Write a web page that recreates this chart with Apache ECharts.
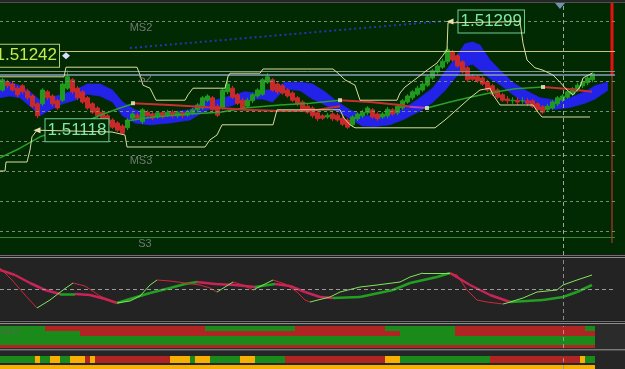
<!DOCTYPE html>
<html>
<head>
<meta charset="utf-8">
<script src="https://cdn.jsdelivr.net/npm/echarts@6/dist/echarts.min.js"></script>
<style>
html,body{margin:0;padding:0;background:#012a02;overflow:hidden;}
#chart{width:625px;height:369px;}
</style>
</head>
<body>
<div id="chart"></div>
<script>
// ================= DATA =================
// candles: [open, close, low, high], one per bar
const candles = [
[1.51185,1.51202,1.51182,1.51205],[1.51198,1.51192,1.51188,1.51202],[1.51195,1.51185,1.51182,1.51198],
[1.51188,1.51177,1.51173,1.51192],[1.51192,1.51182,1.51178,1.51195],[1.51183,1.51172,1.51168,1.51187],
[1.51175,1.51158,1.51155,1.51178],[1.51162,1.51142,1.51138,1.51165],[1.51162,1.51185,1.51158,1.51188],
[1.51182,1.51172,1.51168,1.51185],[1.51175,1.51162,1.51158,1.51178],[1.51167,1.51155,1.51152,1.51170],
[1.51168,1.51195,1.51165,1.51198],[1.51188,1.51207,1.51185,1.51218],[1.51202,1.51182,1.51178,1.51205],
[1.51188,1.51172,1.51168,1.51192],[1.51182,1.51165,1.51162,1.51185],[1.51172,1.51155,1.51152,1.51175],
[1.51162,1.51148,1.51145,1.51165],[1.51155,1.51142,1.51138,1.51158],[1.51148,1.51135,1.51132,1.51152],
[1.51142,1.51128,1.51125,1.51145],[1.51135,1.51123,1.51120,1.51138],[1.51130,1.51118,1.51115,1.51133],
[1.51125,1.51113,1.51110,1.51128],[1.51122,1.51135,1.51118,1.51138],[1.51138,1.51145,1.51135,1.51148],
[1.51143,1.51138,1.51135,1.51147],[1.51132,1.51152,1.51128,1.51155],[1.51148,1.51142,1.51138,1.51152],
[1.51145,1.51138,1.51135,1.51148],[1.51140,1.51147,1.51137,1.51150],[1.51147,1.51140,1.51137,1.51150],
[1.51143,1.51148,1.51140,1.51152],[1.51148,1.51142,1.51138,1.51152],[1.51142,1.51147,1.51138,1.51150],
[1.51147,1.51142,1.51138,1.51150],[1.51143,1.51148,1.51140,1.51152],[1.51147,1.51152,1.51143,1.51155],
[1.51152,1.51160,1.51148,1.51163],[1.51155,1.51172,1.51152,1.51175],[1.51168,1.51175,1.51165,1.51178],
[1.51172,1.51152,1.51148,1.51175],[1.51158,1.51143,1.51140,1.51162],[1.51155,1.51185,1.51152,1.51188],
[1.51182,1.51195,1.51178,1.51208],[1.51188,1.51173,1.51170,1.51192],[1.51177,1.51163,1.51160,1.51180],
[1.51168,1.51155,1.51152,1.51172],[1.51158,1.51168,1.51155,1.51172],[1.51167,1.51177,1.51163,1.51180],
[1.51175,1.51185,1.51172,1.51188],[1.51178,1.51202,1.51175,1.51205],[1.51198,1.51207,1.51195,1.51213],
[1.51202,1.51185,1.51182,1.51205],[1.51195,1.51182,1.51178,1.51198],[1.51192,1.51180,1.51177,1.51195],
[1.51185,1.51175,1.51172,1.51188],[1.51180,1.51168,1.51165,1.51183],[1.51172,1.51162,1.51158,1.51175],
[1.51165,1.51152,1.51148,1.51168],[1.51158,1.51148,1.51145,1.51162],[1.51155,1.51142,1.51138,1.51158],
[1.51147,1.51137,1.51133,1.51150],[1.51142,1.51138,1.51135,1.51145],[1.51140,1.51143,1.51137,1.51147],
[1.51145,1.51137,1.51133,1.51148],[1.51143,1.51135,1.51132,1.51147],[1.51138,1.51128,1.51125,1.51142],
[1.51135,1.51123,1.51120,1.51138],[1.51127,1.51140,1.51123,1.51143],[1.51137,1.51145,1.51133,1.51148],
[1.51142,1.51148,1.51138,1.51152],[1.51147,1.51155,1.51143,1.51158],[1.51152,1.51140,1.51137,1.51155],
[1.51145,1.51137,1.51133,1.51148],[1.51140,1.51145,1.51137,1.51148],[1.51142,1.51153,1.51138,1.51157],
[1.51152,1.51145,1.51142,1.51155],[1.51147,1.51158,1.51143,1.51162],[1.51155,1.51167,1.51152,1.51170],
[1.51165,1.51175,1.51162,1.51178],[1.51172,1.51182,1.51168,1.51185],[1.51178,1.51188,1.51175,1.51192],
[1.51185,1.51195,1.51182,1.51198],[1.51193,1.51207,1.51190,1.51210],[1.51205,1.51217,1.51202,1.51220],
[1.51215,1.51225,1.51212,1.51228],[1.51223,1.51233,1.51220,1.51237],[1.51232,1.51252,1.51228,1.51258],
[1.51248,1.51235,1.51232,1.51252],[1.51242,1.51225,1.51222,1.51245],[1.51232,1.51215,1.51212,1.51235],
[1.51222,1.51202,1.51198,1.51225],[1.51208,1.51203,1.51200,1.51212],[1.51207,1.51200,1.51197,1.51210],
[1.51205,1.51195,1.51192,1.51208],[1.51198,1.51185,1.51182,1.51202],[1.51192,1.51178,1.51175,1.51195],
[1.51185,1.51173,1.51170,1.51188],[1.51177,1.51168,1.51165,1.51180],[1.51170,1.51167,1.51162,1.51175],
[1.51167,1.51168,1.51162,1.51173],[1.51168,1.51165,1.51160,1.51173],[1.51167,1.51167,1.51162,1.51173],
[1.51167,1.51163,1.51158,1.51172],[1.51167,1.51158,1.51155,1.51170],[1.51162,1.51152,1.51148,1.51165],
[1.51157,1.51148,1.51145,1.51160],[1.51152,1.51158,1.51148,1.51162],[1.51155,1.51165,1.51152,1.51168],
[1.51162,1.51172,1.51158,1.51175],[1.51168,1.51175,1.51165,1.51178],[1.51173,1.51182,1.51170,1.51185],
[1.51178,1.51187,1.51175,1.51190],[1.51185,1.51193,1.51182,1.51197],[1.51192,1.51198,1.51188,1.51202],
[1.51197,1.51205,1.51193,1.51208],[1.51202,1.51212,1.51198,1.51215]
];
const barSlots = 123; // bars incl. the empty shift area on the right

// blue band (bar position, upper edge, lower edge)
const blueX = [-0.5,1.5,3.5,5.5,7.5,9.5,12,14.5,17,19.5,22,24,26.5,29.5,33.5,37.5,40.5,42.5,45.5,48.5,50.5,52,54,56.5,59.5,62,64.5,67,69.5,72,74.5,77.5,80.5,83.5,86,88.5,90.5,92.5,94,95.5,97.5,99.5,102,104.5,107.5,110.5,113.5,116.5,118.5,121];
const blueUpper = [1.51202,1.51198,1.51192,1.51182,1.51168,1.51172,1.51178,1.51185,1.51195,1.51195,1.51185,1.51165,1.51152,1.51145,1.51148,1.51152,1.51168,1.51168,1.51175,1.51182,1.51180,1.51185,1.51185,1.51198,1.51198,1.51195,1.51182,1.51165,1.51152,1.51142,1.51142,1.51145,1.51155,1.51172,1.51188,1.51215,1.51238,1.51262,1.51265,1.51260,1.51235,1.51218,1.51198,1.51185,1.51172,1.51168,1.51172,1.51182,1.51192,1.51198];
const blueLower = [1.51172,1.51175,1.51172,1.51158,1.51142,1.51152,1.51162,1.51168,1.51178,1.51175,1.51165,1.51142,1.51130,1.51127,1.51130,1.51135,1.51150,1.51155,1.51158,1.51168,1.51170,1.51170,1.51165,1.51187,1.51184,1.51170,1.51160,1.51150,1.51137,1.51125,1.51124,1.51127,1.51137,1.51150,1.51164,1.51184,1.51205,1.51224,1.51228,1.51218,1.51204,1.51194,1.51178,1.51163,1.51156,1.51153,1.51156,1.51163,1.51170,1.51184];

// price channel (upper / lower)
const upperChannel = [[-0.5,1.51207],[12.3,1.51207],[12.7,1.51223],[26.9,1.51223],[27.5,1.51210],[28.1,1.51193],[29.5,1.51188],[30.7,1.51168],[36.5,1.51168],[37.1,1.51177],[38.1,1.51188],[44.5,1.51188],[45.1,1.51207],[45.5,1.51213],[51.5,1.51213],[52.1,1.51220],[66.1,1.51220],[67.1,1.51213],[68.5,1.51202],[70.5,1.51193],[71.5,1.51168],[78.9,1.51168],[79.5,1.51180],[80.5,1.51190],[82.9,1.51205],[84.9,1.51218],[86.9,1.51230],[88.1,1.51243],[88.9,1.51252],[89.1,1.51297],[89.5,1.51299],[103.5,1.51299],[104.1,1.51263],[104.9,1.51235],[106.5,1.51222],[108.1,1.51218],[110.1,1.51210],[111.5,1.51198],[112.9,1.51185],[114.1,1.51177],[115.5,1.51190],[116.1,1.51205],[117.9,1.51213]];
const lowerChannel = [[-0.5,1.51050],[0.5,1.51050],[0.7,1.51065],[4.9,1.51065],[5.5,1.51085],[5.9,1.51107],[6.9,1.51118],[21.9,1.51115],[24.5,1.51110],[24.9,1.51090],[40.5,1.51090],[41.5,1.51102],[42.9,1.51110],[43.9,1.51127],[54.1,1.51127],[54.9,1.51152],[67.5,1.51152],[68.3,1.51138],[69.5,1.51127],[70.5,1.51122],[86.5,1.51122],[88.5,1.51135],[91.5,1.51157],[93.5,1.51172],[95.5,1.51185],[97.5,1.51188],[98.1,1.51177],[99.5,1.51160],[106.1,1.51160],[107.1,1.51148],[107.9,1.51140],[117.5,1.51140]];

// moving averages (coloured pieces)
const maGreenA = [[-0.5,1.51072],[3.5,1.51088],[7.5,1.51107],[11.5,1.51118],[15.5,1.51128],[19.5,1.51143],[23.5,1.51155],[26.1,1.51162]];
const maRedA = [[26.1,1.51163],[33.5,1.51160],[39.5,1.51157],[48.5,1.51152],[55.5,1.51150],[61.5,1.51150],[67.5,1.51158]];
const maGreenB = [[24.5,1.51133],[30.1,1.51140],[37.5,1.51145],[43.5,1.51148],[48.5,1.51155],[55.5,1.51160],[61.5,1.51163],[67.5,1.51168]];
const maRedB = [[67.5,1.51168],[73.5,1.51165],[79.5,1.51160],[81.5,1.51157]];
const maMagenta = [[81.5,1.51157],[84.9,1.51155]];
const maGreenC = [[84.9,1.51155],[89.5,1.51165],[93.5,1.51173],[97.5,1.51180],[102.5,1.51187],[108.1,1.51190]];
const maRedC = [[108.1,1.51190],[112.5,1.51187],[117.9,1.51182]];
const turnDots = [[26.1,1.51163],[67.5,1.51168],[84.9,1.51155],[108.1,1.51190]];
const trendLine = [[25.5,1.51255],[88.5,1.51300]];

// marked prices
const highMark = [89.5,1.51299];
const lowMark = [6.9,1.51118];
const lineMark = [12.7,1.51242];

// horizontal levels
const gridLevels = [1.5130,1.5125,1.5120,1.5115,1.5110,1.5105,1.5100,1.5095];
const pivotLevels = [1.51250,1.51217,1.51210,1.51077,1.50940];
const levelNames = ['MS2','S2','MS3','S3'];
const levelNameValues = [1.5130,1.51210,1.51077,1.50940];
const levelNameX = [27.7,28.5,27.7,28.5];

const cursorIdx = 112.1;
const sessionIdx = 121.9;
const sessionTop = 1.5133, sessionSplit = 1.51210, sessionBottom = 1.5093;
const topMarker = [111.5,1.51325];

// oscillator
const oscThin = [[-0.5,21],[1.9,9],[4.5,-6],[6.9,-19],[9.5,-11],[12.1,-1],[14.1,6],[16.5,3],[19.5,-7],[22.9,-14],[25.5,-12],[27.5,-7],[29.5,4],[30.9,9],[33.5,8],[36.5,6],[39.5,4],[41.5,1],[42.9,-3],[44.5,2],[46.1,7],[48.1,4],[50.1,-1],[52.1,4],[54.1,9],[56.5,5],[58.9,-3],[60.5,-11],[61.5,-13],[65.5,-8],[67.5,-3],[71.5,2],[74.9,4],[79.5,7],[81.5,12],[84.1,16],[86.9,16],[89.5,16],[90.9,14],[92.9,-1],[94.9,-11],[96.9,-13],[100.1,-15],[100.9,-14],[104.1,-9],[106.9,-3],[110.9,-1],[112.1,4],[114.9,9],[117.9,14]];
const oscThick = [[-0.5,19],[2.5,14],[5.5,6],[8.5,-1],[11.5,-5],[14.5,-5],[17.5,-6],[20.5,-10],[22.9,-14],[25.5,-10],[29.5,-4],[33.5,1],[36.5,5],[38.9,7],[42.5,5],[46.5,4],[50.5,2],[54.5,5],[57.5,3],[60.5,-3],[63.5,-8],[66.1,-9],[71.5,-8],[78.1,-1],[81.5,6],[86.9,12],[89.5,16],[93.5,4],[97.5,-6],[101.5,-13],[108.1,-11],[112.1,-8],[114.9,-3],[117.9,4]];

// state strips (run lengths: state, number of bars)
const p1r1 = [['G',9],['R',32],['G',18],['R',18],['G',14],['R',26],['G',2]];
const p1r2 = [['G',16],['R',64],['G',11],['R',28]];
const p1r3 = [['G',119]];
const p1r4 = [['R',119]];
const p2r1 = [['G',7],['O',1],['G',2],['O',2],['G',2],['O',3],['R',1],['O',1],['R',15],['O',4],['G',1],['O',3],['G',6],['O',3],['G',6],['R',20],['O',3],['G',18],['R',18],['O',1],['G',2]];
const p2r2 = [['O',119]];

// ================= STYLE =================
const BG = '#012a02';
const STATE_COL = {G:'#1a8a1a', R:'#b02424', O:'#f8b000'};
const ROWS1 = [[0,5],[5,10],[10,19],[19,22]];
const ROWS2 = [[0,7],[9,13]];
const FONT = 'Liberation Sans, Arial, sans-serif';
const pivotStyles = [
  {color:'#c9c47c', type:'solid', width:1},
  {color:'#7f9a80', type:'solid', width:1},
  {color:'#8b9fb6', type:'solid', width:1.5},
  {color:'#7a8c6e', type:[3,3], width:1},
  {color:'#2e8a2e', type:'solid', width:1}
];

// ================= BUILD =================
const cats = Array.from({length: barSlots}, (_, i) => String(i));
const xMin = -0.5, xMax = barSlots - 0.5;

function runItems(runs, row){
  const out = []; let s = 0;
  for (const [c, n] of runs){ out.push({value:[s, s + n - 1, row], itemStyle:{color: STATE_COL[c]}}); s += n; }
  return out;
}
function stripRender(rows){
  return function(params, api){
    const a = api.coord([api.value(0) - 0.5, 0]);
    const b = api.coord([api.value(1) + 0.5, 0]);
    const cs = params.coordSys;
    const L = rows[api.value(2)];
    return {type:'rect', shape:{x:a[0], y:cs.y + L[0], width:b[0] - a[0], height:L[1] - L[0]}, style:{fill: api.visual('color')}};
  };
}
function segs(pts, up, down){
  const out = [];
  for (let i = 0; i < pts.length - 1; i++){
    const a = pts[i], b = pts[i + 1];
    out.push({coords:[a, b], lineStyle:{color: b[1] >= a[1] ? up : down}});
  }
  return out;
}
function lineS(data, color, width, z, extra){
  return Object.assign({type:'line', xAxisIndex:1, yAxisIndex:0, data, symbol:'none', showSymbol:false, silent:true,
    lineStyle:{color, width}, z: z}, extra || {});
}
const boxLabel = (col, border, pos, dist) => ({
  show:true, position:pos, distance:dist, formatter: p => p.value.toFixed(5),
  color:col, fontSize:17, fontFamily:FONT, borderColor:border, borderWidth:1,
  padding:[2,2,1,2], backgroundColor:BG, lineHeight:19
});

const mainMarkLines = [];
gridLevels.forEach(v => mainMarkLines.push({yAxis:v, lineStyle:{color:'#7a8c6e', type:[3,3], width:1}}));
pivotLevels.forEach((v, i) => mainMarkLines.push({yAxis:v, lineStyle:pivotStyles[i]}));
mainMarkLines.push({xAxis:cursorIdx, lineStyle:{color:'#9aa89a', type:[4,3], width:1}});

const levelNameOffsets = [[0,0],[0,-3],[0,0],[0,0]];

const option = {
  backgroundColor: BG,
  animation: false,
  graphic: [
    {type:'rect', shape:{x:0,y:0,width:625,height:2}, style:{fill:'#262626'}, z:0, silent:true},
    {type:'rect', shape:{x:0,y:2,width:625,height:1}, style:{fill:'#505050'}, z:0, silent:true},
    {type:'rect', shape:{x:0,y:254,width:625,height:4}, style:{fill:'#1c1c1c'}, z:0, silent:true},
    {type:'rect', shape:{x:0,y:255,width:625,height:1}, style:{fill:'#6e6e6e'}, z:0, silent:true},
    {type:'rect', shape:{x:0,y:257,width:625,height:1}, style:{fill:'#8f8f8f'}, z:0, silent:true},
    {type:'rect', shape:{x:0,y:258,width:625,height:62}, style:{fill:'#232323'}, z:0, silent:true},
    {type:'rect', shape:{x:0,y:320,width:625,height:4}, style:{fill:'#1c1c1c'}, z:0, silent:true},
    {type:'rect', shape:{x:0,y:321,width:625,height:1}, style:{fill:'#6e6e6e'}, z:0, silent:true},
    {type:'rect', shape:{x:0,y:323,width:625,height:1}, style:{fill:'#8f8f8f'}, z:0, silent:true},
    {type:'rect', shape:{x:0,y:324,width:625,height:25}, style:{fill:'#2b2b2b'}, z:0, silent:true},
    {type:'rect', shape:{x:0,y:349,width:625,height:1}, style:{fill:'#7a7a7a'}, z:0, silent:true},
    {type:'rect', shape:{x:0,y:350,width:625,height:1}, style:{fill:'#4a4a4a'}, z:0, silent:true},
    {type:'rect', shape:{x:0,y:351,width:625,height:18}, style:{fill:'#262626'}, z:0, silent:true},
    {type:'text', left:0, top:327, style:{text:'3647', fill:'#4f6a4f', font:'9px ' + FONT}, z:100, silent:true}
  ],
  grid: [
    {left:0, top:3, width:615, height:252, outerBoundsMode:'none', containLabel:false},
    {left:0, top:258, width:615, height:62, outerBoundsMode:'none', containLabel:false},
    {left:0, top:326, width:615, height:22, outerBoundsMode:'none', containLabel:false},
    {left:0, top:356, width:615, height:13, outerBoundsMode:'none', containLabel:false}
  ],
  xAxis: [
    {type:'category', gridIndex:0, data:cats, show:false, boundaryGap:true},
    {type:'value', gridIndex:0, min:xMin, max:xMax, show:false},
    {type:'value', gridIndex:1, min:xMin, max:xMax, show:false},
    {type:'value', gridIndex:2, min:xMin, max:xMax, show:false},
    {type:'value', gridIndex:3, min:xMin, max:xMax, show:false}
  ],
  yAxis: [
    {type:'value', gridIndex:0, min:1.5091, max:1.5133, show:false},
    {type:'value', gridIndex:1, min:-31, max:31, show:false},
    {type:'value', gridIndex:2, min:0, max:1, show:false},
    {type:'value', gridIndex:3, min:0, max:1, show:false}
  ],
  series: [
    // levels + dotted trend line
    lineS(trendLine, '#2038b0', 2, 1, {
      lineStyle:{color:'#2038b0', width:2, type:[2,3]},
      markLine:{silent:true, precision:6, symbol:['none','none'], label:{show:false}, data: mainMarkLines},
      markPoint:{silent:true, data:[{coord:topMarker, symbol:'triangle', symbolRotate:180, symbolSize:[10,6], itemStyle:{color:'#7090b4'}, label:{show:false}}]}
    }),
    // level names (on top)
    {type:'scatter', xAxisIndex:1, yAxisIndex:0, z:7, silent:true, symbolSize:0,
     data: levelNames.map((n, i) => ({name:n, value:[levelNameX[i], levelNameValues[i]],
       label:{show:true, position:'bottom', distance:1, offset:levelNameOffsets[i], formatter:'{b}', color:'#8c8c8c', fontSize:11, fontFamily:FONT}}))},
    // blue band
    {type:'custom', xAxisIndex:1, yAxisIndex:0, z:2, silent:true,
     data: blueX.map((x, i) => [x, blueUpper[i], blueLower[i]]),
     encode:{x:0, y:[1,2]},
     renderItem: (params, api) => {
       const i = params.dataIndex;
       if (i >= blueX.length - 1) return {type:'group', children:[]};
       const pts = [api.coord([blueX[i], blueUpper[i]]), api.coord([blueX[i+1], blueUpper[i+1]]),
                    api.coord([blueX[i+1], blueLower[i+1]]), api.coord([blueX[i], blueLower[i]])];
       return {type:'polygon', shape:{points:pts}, style:{fill:'#2222e8', stroke:'#2222e8', lineWidth:0.7}};
     }},
    // candles
    {type:'candlestick', xAxisIndex:0, yAxisIndex:0, z:3, silent:true, barWidth:4.5, data:candles,
     itemStyle:{color:'#1f9a1f', color0:'#c82a2a', borderColor:'#1f9a1f', borderColor0:'#c82a2a', borderWidth:1}},
    // moving averages
    lineS(maGreenA, '#2aa02a', 1.5, 4),
    lineS(maGreenB, '#2aa02a', 1.5, 4),
    lineS(maGreenC, '#2aa02a', 1.5, 4),
    lineS(maRedA, '#c83030', 2, 4),
    lineS(maRedB, '#c83030', 2, 4),
    lineS(maMagenta, '#b040c0', 2, 4),
    lineS(maRedC, '#c83030', 2, 4),
    {type:'scatter', xAxisIndex:1, yAxisIndex:0, z:5, silent:true, data:turnDots, symbol:'rect', symbolSize:4, itemStyle:{color:'#f4f4c8'}},
    // session separator
    lineS([[sessionIdx, sessionSplit],[sessionIdx, sessionBottom]], '#6e2e1e', 2, 4),
    lineS([[sessionIdx, sessionTop],[sessionIdx, sessionSplit]], '#e81010', 3, 4),
    // channels with price marks
    lineS(upperChannel, '#dcdca0', 1, 6, {
      markPoint:{silent:true, data:[{coord:highMark, value:highMark[1], symbol:'triangle', symbolRotate:90, symbolSize:[6,7],
        itemStyle:{color:'#e8e8b0'}, label: boxLabel('#7ee8aa', '#6ccf96', 'right', 5)}]}
    }),
    lineS(lowerChannel, '#dcdca0', 1, 6, {
      markPoint:{silent:true, data:[
        {coord:lowMark, value:lowMark[1], symbol:'triangle', symbolRotate:90, symbolSize:[6,7],
         itemStyle:{color:'#e8e8b0'}, label: boxLabel('#7ee8aa', '#6ccf96', 'right', 5)},
        {coord:lineMark, value:lineMark[1], symbol:'diamond', symbolSize:[8,7],
         itemStyle:{color:'#d8e0ff'}, label: boxLabel('#c4ec50', '#b8d070', 'left', 3)}
      ]}
    }),
    // oscillator
    {type:'line', xAxisIndex:2, yAxisIndex:1, data:oscThin, symbol:'none', silent:true, lineStyle:{opacity:0}, z:1,
     markLine:{silent:true, precision:4, symbol:['none','none'], label:{show:false}, data:[
       {yAxis:0, lineStyle:{color:'#9a9a9a', type:[4,3], width:1}},
       {xAxis:cursorIdx, lineStyle:{color:'#8a8a8a', type:[4,3], width:1}}]}},
    {type:'lines', coordinateSystem:'cartesian2d', xAxisIndex:2, yAxisIndex:1, z:3, silent:true,
     data: segs(oscThick, '#22a022', '#c8245a'), lineStyle:{width:2.5, opacity:1}},
    {type:'lines', coordinateSystem:'cartesian2d', xAxisIndex:2, yAxisIndex:1, z:4, silent:true,
     data: segs(oscThin, '#7ee85a', '#d02838'), lineStyle:{width:1, opacity:1}},
    // state strips
    {type:'custom', xAxisIndex:3, yAxisIndex:2, z:2, silent:true, encode:{x:[0,1], y:2},
     data: [].concat(runItems(p1r1,0), runItems(p1r2,1), runItems(p1r3,2), runItems(p1r4,3)),
     renderItem: stripRender(ROWS1),
     markLine:{silent:true, precision:4, symbol:['none','none'], label:{show:false}, data:[{xAxis:cursorIdx, lineStyle:{color:'#9a9a9a', type:[4,3], width:1}}]}},
    {type:'custom', xAxisIndex:4, yAxisIndex:3, z:2, silent:true, encode:{x:[0,1], y:2},
     data: [].concat(runItems(p2r1,0), runItems(p2r2,1)),
     renderItem: stripRender(ROWS2),
     markLine:{silent:true, precision:4, symbol:['none','none'], label:{show:false}, data:[{xAxis:cursorIdx, lineStyle:{color:'#9a9a9a', type:[4,3], width:1}}]}}
  ]
};
const chart = echarts.init(document.getElementById('chart'), null, {renderer:'canvas'});
chart.setOption(option);
</script>
</body>
</html>
